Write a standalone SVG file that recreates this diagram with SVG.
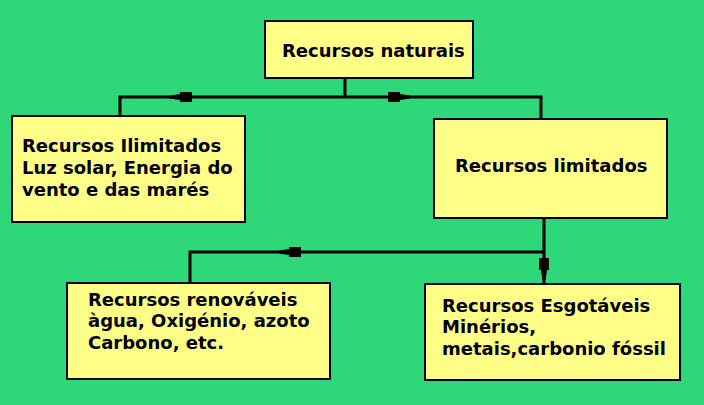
<svg xmlns="http://www.w3.org/2000/svg" width="704" height="405" viewBox="0 0 704 405">
<style>
.box{fill:#FFFF88;stroke:#000;stroke-width:2}
.t{font-family:"DejaVu Sans",Verdana,sans-serif;font-weight:bold;font-size:18px;fill:#000}
.ln{fill:none;stroke:#000;stroke-width:3}
.mk{fill:#000}
</style>
<defs>
<path id="mk" d="M-12,-5 H0 V5 H-12 Z M0,-3 L10,-1.5 L10,1.5 L0,3 Z"/>
</defs>
<rect width="704" height="405" fill="#2ED778"/>
<g id="connectors">
<path class="ln" d="M345,78 V97 M120,116 V97 H541 V119"/>
<path class="ln" d="M544,218 V283 M544,252 H190 V283"/>
<use href="#mk" class="mk" transform="translate(180,97) rotate(180)"/>
<use href="#mk" class="mk" transform="translate(400,97)"/>
<use href="#mk" class="mk" transform="translate(289,252) rotate(180)"/>
<use href="#mk" class="mk" transform="translate(544,270) rotate(90)"/>
</g>
<g id="n-naturais">
<rect class="box" x="265" y="21" width="208" height="57"/>
<text class="t" x="282" y="57">Recursos naturais</text>
</g>
<g id="n-ilimitados">
<rect class="box" x="12" y="116" width="233" height="106"/>
<text class="t" x="22" y="152">Recursos Ilimitados</text>
<text class="t" x="22" y="174">Luz solar, Energia do</text>
<text class="t" x="22" y="196">vento e das marés</text>
</g>
<g id="n-limitados">
<rect class="box" x="434" y="119" width="233" height="99"/>
<text class="t" x="455" y="172">Recursos limitados</text>
</g>
<g id="n-renovaveis">
<rect class="box" x="67" y="283" width="263" height="96"/>
<text class="t" x="88" y="306">Recursos renováveis</text>
<text class="t" x="88" y="327">àgua, Oxigénio, azoto</text>
<text class="t" x="88" y="349">Carbono, etc.</text>
</g>
<g id="n-esgotaveis">
<rect class="box" x="425" y="284" width="255" height="96"/>
<text class="t" x="442" y="312">Recursos Esgotáveis</text>
<text class="t" x="442" y="333">Minérios,</text>
<text class="t" x="442" y="355">metais,carbonio fóssil</text>
</g>
</svg>
